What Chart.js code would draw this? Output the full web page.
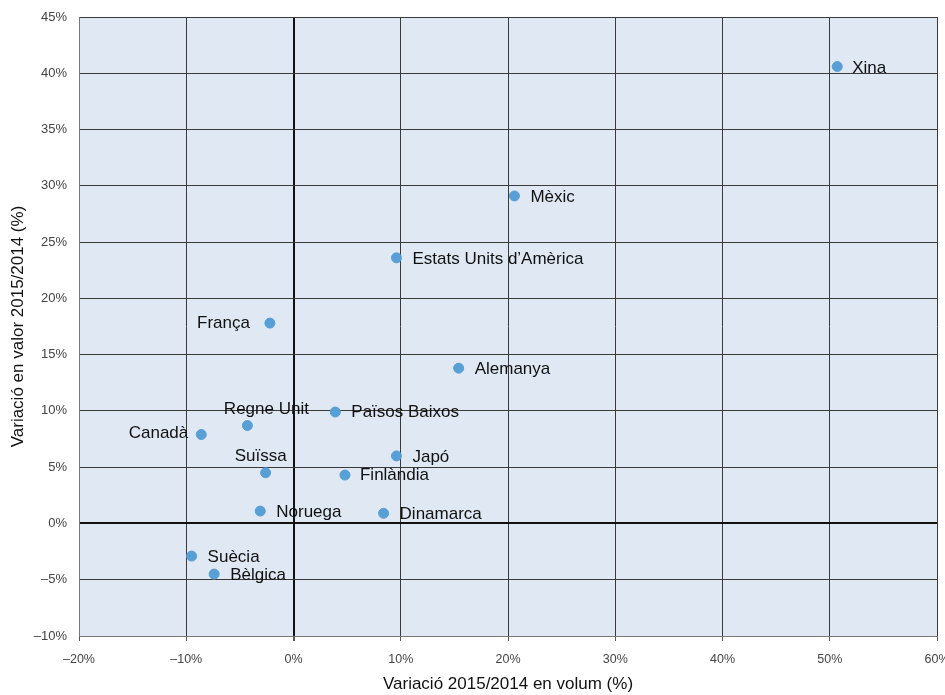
<!DOCTYPE html>
<html><head><meta charset="utf-8">
<script src="https://cdn.jsdelivr.net/npm/chart.js@4/dist/chart.umd.min.js"></script>
<style>html,body{margin:0;padding:0;background:#fff}#wrap{width:945px;height:695px}</style>
</head><body><div id="wrap"><canvas id="c" width="945" height="695"></canvas></div>
<script>
const countries = ["Xina","Mèxic","Estats Units d’Amèrica","França","Alemanya","Països Baixos","Regne Unit","Canadà","Japó","Suïssa","Finlàndia","Noruega","Dinamarca","Suècia","Bèlgica"];
const volumeChange = [50.7,20.6,9.6,-2.2,15.4,3.9,-4.3,-8.6,9.6,-2.6,4.8,-3.1,8.4,-9.5,-7.4];
const valueChange = [40.6,29.1,23.6,17.8,13.8,9.9,8.7,7.9,6.0,4.5,4.3,1.1,0.9,-2.9,-4.5];
const xTicks = [-20,-10,0,10,20,30,40,50,60];
const yTicks = [-10,-5,0,5,10,15,20,25,30,35,40,45];
// label placement style (offset from the point, alignment)
const labelPlacement = [
 [15,2,'left'],[16,1,'left'],[16,1,'left'],[-20,0,'right'],[16,1,'left'],[16,0,'left'],
 [19,-16,'center'],[-13,-1,'right'],[16,1,'left'],[-5,-16,'center'],[15,0,'left'],
 [16,1,'left'],[16,1,'left'],[16,1,'left'],[16,1,'left']
];
const fmt = v => (v<0 ? '\u2013'+Math.abs(v) : v) + '%';
const bgPlugin = {
  id:'bg',
  beforeDraw(chart){
    const {ctx, chartArea:a} = chart;
    ctx.save(); ctx.fillStyle='#dfe8f3'; ctx.fillRect(a.left,a.top,a.right-a.left,a.bottom-a.top); ctx.restore();
  }
};
const labelPlugin = {
  id:'lbl',
  afterDatasetsDraw(chart){
    const ctx = chart.ctx; const meta = chart.getDatasetMeta(0);
    ctx.save(); ctx.font = '17px "Liberation Sans", Arial, sans-serif'; ctx.fillStyle='#111'; ctx.textBaseline='middle';
    meta.data.forEach((pt,i)=>{
      const p = labelPlacement[i];
      ctx.textAlign = p[2];
      ctx.fillText(countries[i], pt.x+p[0], pt.y+p[1]);
    });
    ctx.restore();
  }
};
const data = volumeChange.map((x,i)=>({x:x,y:valueChange[i]}));
const gridColor = ctx => ctx.tick && ctx.tick.value===0 ? '#111' : '#3a3a3a';
const gridWidth = ctx => ctx.tick && ctx.tick.value===0 ? 2 : 1;
const xTickFont = {family:'"Liberation Sans", Arial, sans-serif', size:12.5};
const yTickFont = {family:'"Liberation Sans", Arial, sans-serif', size:13};
const titleFont = {family:'"Liberation Sans", Arial, sans-serif', size:17};
new Chart(document.getElementById('c'),{
  type:'scatter',
  data:{datasets:[{data:data, backgroundColor:'#589fd6', borderColor:'#589fd6', pointRadius:5, pointHoverRadius:5}]},
  options:{
    responsive:false, animation:false, devicePixelRatio:1,
    layout:{padding:{top:17,right:8,left:0,bottom:0}},
    plugins:{legend:{display:false}, tooltip:{enabled:false}},
    scales:{
      x:{type:'linear', min:-20, max:60,
        afterBuildTicks(s){ s.ticks = xTicks.map(v=>({value:v})); },
        afterFit(s){ s.height = 59; s.paddingRight = 0; s.paddingLeft = 0; },
        grid:{color:gridColor, lineWidth:gridWidth, tickLength:5, tickColor:'#555'},
        border:{display:true, color:'#777', width:1},
        ticks:{callback:fmt, color:'#444', padding:11, maxRotation:0, font:xTickFont},
        title:{display:true, text:'Variació 2015/2014 en volum (%)', color:'#111', padding:{top:2,bottom:0}, font:titleFont}
      },
      y:{type:'linear', min:-10, max:45,
        afterBuildTicks(s){ s.ticks = yTicks.map(v=>({value:v})); },
        afterFit(s){ s.width = 79; s.paddingTop = 0; s.paddingBottom = 0; },
        grid:{color:gridColor, lineWidth:gridWidth, drawTicks:false},
        border:{display:true, color:'#777', width:1},
        ticks:{callback:fmt, color:'#444', padding:12, font:yTickFont},
        title:{display:true, text:'Variació en valor 2015/2014 (%)', color:'#111', padding:{top:8,bottom:0}, font:titleFont}
      }
    }
  },
  plugins:[bgPlugin,labelPlugin]
});
</script></body></html>
